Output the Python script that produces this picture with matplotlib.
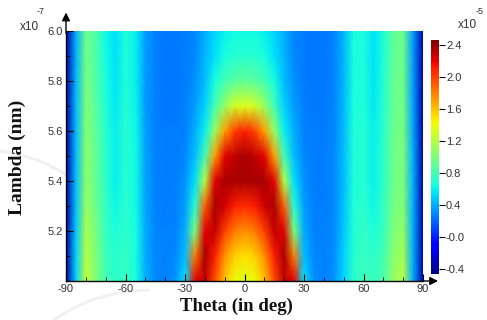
"""Reflectance map over incidence angle and wavelength (jet heatmap)."""

import matplotlib

matplotlib.use("Agg")
import matplotlib.pyplot as plt  # noqa: E402
import numpy as np  # noqa: E402
from matplotlib.patches import Arc  # noqa: E402

plt.rcParams["axes.unicode_minus"] = False

# Grid: theta in degrees, lambda in units of 1e-7, field in units of 1e-5
theta_deg = list(range(-90, 91, 5))
lambda_e7 = [5.0, 5.1, 5.2, 5.3, 5.4, 5.5, 5.6, 5.7, 5.8, 5.9, 6.0]

# each row: theta -90 ... 90 (37 values)
field_e5 = [
    # 5.0
    [-0.35, 0.5, 1.25, 1.02, 0.8, 0.72, 0.75, 0.65, 0.42, 0.3, 0.28, 0.32, 0.55, 2.2, 2.3, 1.95, 1.6, 1.4,
     1.35, 1.4, 1.6, 1.95, 2.3, 2.2, 0.55, 0.32, 0.28, 0.32, 0.5, 0.72, 0.78, 0.75, 0.82, 1.08, 1.2, 0.4, -0.35],
    # 5.1
    [-0.35, 0.5, 1.2, 1.0, 0.78, 0.7, 0.74, 0.65, 0.4, 0.3, 0.28, 0.3, 0.45, 1.8, 2.35, 2.1, 1.75, 1.55,
     1.5, 1.55, 1.75, 2.1, 2.35, 1.8, 0.45, 0.3, 0.28, 0.31, 0.5, 0.7, 0.76, 0.72, 0.8, 1.04, 1.15, 0.4, -0.35],
    # 5.2
    [-0.35, 0.48, 1.15, 0.98, 0.76, 0.66, 0.72, 0.64, 0.4, 0.29, 0.27, 0.28, 0.4, 1.0, 2.2, 2.3, 2.0, 1.8,
     1.75, 1.8, 2.0, 2.3, 2.2, 1.0, 0.4, 0.28, 0.27, 0.3, 0.48, 0.68, 0.74, 0.66, 0.76, 1.0, 1.08, 0.4, -0.35],
    # 5.3
    [-0.35, 0.46, 1.1, 0.95, 0.74, 0.62, 0.71, 0.63, 0.39, 0.28, 0.26, 0.27, 0.35, 0.7, 1.9, 2.35, 2.25, 2.1,
     2.05, 2.1, 2.25, 2.35, 1.9, 0.7, 0.35, 0.27, 0.26, 0.3, 0.46, 0.67, 0.72, 0.62, 0.74, 0.97, 1.03, 0.4, -0.35],
    # 5.4
    [-0.35, 0.45, 1.06, 0.92, 0.72, 0.6, 0.7, 0.63, 0.38, 0.28, 0.26, 0.26, 0.32, 0.55, 1.2, 2.2, 2.35, 2.35,
     2.35, 2.35, 2.35, 2.2, 1.2, 0.55, 0.32, 0.26, 0.26, 0.3, 0.45, 0.66, 0.7, 0.6, 0.72, 0.95, 1.0, 0.4, -0.35],
    # 5.5
    [-0.35, 0.45, 1.05, 0.92, 0.72, 0.6, 0.7, 0.63, 0.38, 0.28, 0.26, 0.26, 0.3, 0.45, 0.8, 1.7, 2.2, 2.3,
     2.35, 2.3, 2.2, 1.7, 0.8, 0.45, 0.3, 0.26, 0.26, 0.3, 0.45, 0.66, 0.7, 0.6, 0.72, 0.95, 1.0, 0.4, -0.35],
    # 5.6
    [-0.35, 0.44, 1.03, 0.9, 0.7, 0.59, 0.7, 0.62, 0.37, 0.28, 0.26, 0.26, 0.28, 0.4, 0.6, 1.1, 1.7, 2.0,
     2.1, 2.0, 1.7, 1.1, 0.6, 0.4, 0.28, 0.26, 0.26, 0.29, 0.44, 0.66, 0.7, 0.59, 0.71, 0.94, 0.99, 0.38, -0.35],
    # 5.7
    [-0.35, 0.43, 1.0, 0.88, 0.68, 0.57, 0.69, 0.61, 0.36, 0.27, 0.25, 0.25, 0.27, 0.35, 0.5, 0.8, 1.1, 1.3,
     1.35, 1.3, 1.1, 0.8, 0.5, 0.35, 0.27, 0.25, 0.25, 0.29, 0.43, 0.65, 0.68, 0.57, 0.7, 0.92, 0.97, 0.37, -0.35],
    # 5.8
    [-0.35, 0.42, 0.98, 0.86, 0.65, 0.56, 0.68, 0.6, 0.36, 0.27, 0.25, 0.25, 0.26, 0.32, 0.45, 0.65, 0.8, 0.88,
     0.9, 0.88, 0.8, 0.65, 0.45, 0.32, 0.26, 0.25, 0.25, 0.28, 0.42, 0.65, 0.67, 0.56, 0.69, 0.91, 0.96, 0.36, -0.35],
    # 5.9
    [-0.35, 0.41, 0.96, 0.85, 0.63, 0.55, 0.68, 0.6, 0.35, 0.27, 0.25, 0.25, 0.26, 0.3, 0.42, 0.55, 0.65, 0.7,
     0.7, 0.7, 0.65, 0.55, 0.42, 0.3, 0.26, 0.25, 0.25, 0.28, 0.42, 0.65, 0.66, 0.55, 0.68, 0.9, 0.95, 0.35, -0.35],
    # 6.0
    [-0.35, 0.4, 0.95, 0.85, 0.62, 0.55, 0.68, 0.6, 0.35, 0.27, 0.25, 0.25, 0.26, 0.3, 0.4, 0.52, 0.6, 0.63,
     0.63, 0.63, 0.6, 0.52, 0.4, 0.3, 0.26, 0.25, 0.25, 0.28, 0.42, 0.65, 0.66, 0.55, 0.68, 0.9, 0.95, 0.35, -0.35],
]

x_ticks = [-90, -60, -30, 0, 30, 60, 90]
y_ticks = [5.2, 5.4, 5.6, 5.8, 6.0]
cbar_ticks = [-0.4, 0.0, 0.4, 0.8, 1.2, 1.6, 2.0, 2.4]
cbar_labels = ["-0.4", "-0.0", "0.4", "0.8", "1.2", "1.6", "2.0", "2.4"]

TICK_FONT = "Liberation Sans"
LABEL_FONT = "Liberation Serif"
TICK_COLOR = "#333333"

fig = plt.figure(figsize=(4.87, 3.2), dpi=100)
fig.patch.set_facecolor("white")

# faint watermark arcs in the lower left
wm = fig.add_axes([0, 0, 1, 1], zorder=-1)
wm.set_xlim(0, 487)
wm.set_ylim(320, 0)
wm.axis("off")
wm.add_patch(Arc((150, 420), 300, 260, theta1=180, theta2=270, color="#f0f0f0", lw=2))
wm.add_patch(Arc((-20, 250), 260, 200, theta1=270, theta2=360, color="#f0f0f0", lw=2))

ax = fig.add_axes([66 / 487, 1 - 281 / 320, 357 / 487, 250 / 320])
mesh = ax.pcolormesh(theta_deg, lambda_e7, np.array(field_e5), cmap="jet",
                     vmin=-0.46, vmax=2.46, shading="gouraud")
ax.set_xlim(-90, 90)
ax.set_ylim(5.0, 6.0)

ax.set_xticks(x_ticks)
ax.set_xticks(range(-80, 90, 10), minor=True)
ax.set_yticks(y_ticks)
ax.set_yticks([5.1, 5.3, 5.5, 5.7, 5.9], minor=True)
ax.set_yticklabels([f"{v:.1f}" for v in y_ticks])
ax.tick_params(which="major", direction="in", length=5, width=0.8, color="black",
               labelsize=8, labelcolor=TICK_COLOR, pad=2)
ax.tick_params(which="minor", direction="in", length=3, width=0.6, color="black")
for lab in ax.get_xticklabels() + ax.get_yticklabels():
    lab.set_fontfamily(TICK_FONT)

for side in ("top", "right"):
    ax.spines[side].set_visible(False)
for side in ("left", "bottom"):
    ax.spines[side].set_color("black")
    ax.spines[side].set_linewidth(1.0)

# axis arrows
ax.annotate("", xy=(0, 1.085), xytext=(0, 0.98), xycoords="axes fraction",
            arrowprops=dict(arrowstyle="-|>", color="black", lw=1.0, mutation_scale=12),
            annotation_clip=False)
ax.annotate("", xy=(1.05, 0), xytext=(0.99, 0), xycoords="axes fraction",
            arrowprops=dict(arrowstyle="-|>", color="black", lw=1.0, mutation_scale=12),
            annotation_clip=False)

fig.text(17 / 487, 1 - 157 / 320, "Lambda (nm)", rotation=90, ha="center", va="center",
         fontsize=14, fontweight="bold", family=LABEL_FONT, color="#111111")
fig.text(236 / 487, 1 - 306 / 320, "Theta (in deg)", ha="center", va="center",
         fontsize=13.5, fontweight="bold", family=LABEL_FONT, color="#111111")

# scale factors
fig.text(20 / 487, 1 - 27 / 320, "x10", fontsize=8.5, family=TICK_FONT, color=TICK_COLOR, va="center")
fig.text(37 / 487, 1 - 12 / 320, "-7", fontsize=6.5, family=TICK_FONT, color=TICK_COLOR, va="center")
fig.text(458 / 487, 1 - 25 / 320, "x10", fontsize=8.5, family=TICK_FONT, color=TICK_COLOR, va="center")
fig.text(476 / 487, 1 - 11 / 320, "-5", fontsize=6.5, family=TICK_FONT, color=TICK_COLOR, va="center")

cax = fig.add_axes([431 / 487, 1 - 274 / 320, 8 / 487, 234 / 320])
cbar = fig.colorbar(mesh, cax=cax, ticks=cbar_ticks)
cbar.ax.set_yticklabels(cbar_labels)
cbar.outline.set_visible(False)
cbar.ax.tick_params(length=4, width=0.8, color="black", labelsize=8, labelcolor=TICK_COLOR, pad=1)
for lab in cbar.ax.get_yticklabels():
    lab.set_fontfamily(TICK_FONT)

fig.savefig("out.png", dpi=100, facecolor="white")
plt.close(fig)
